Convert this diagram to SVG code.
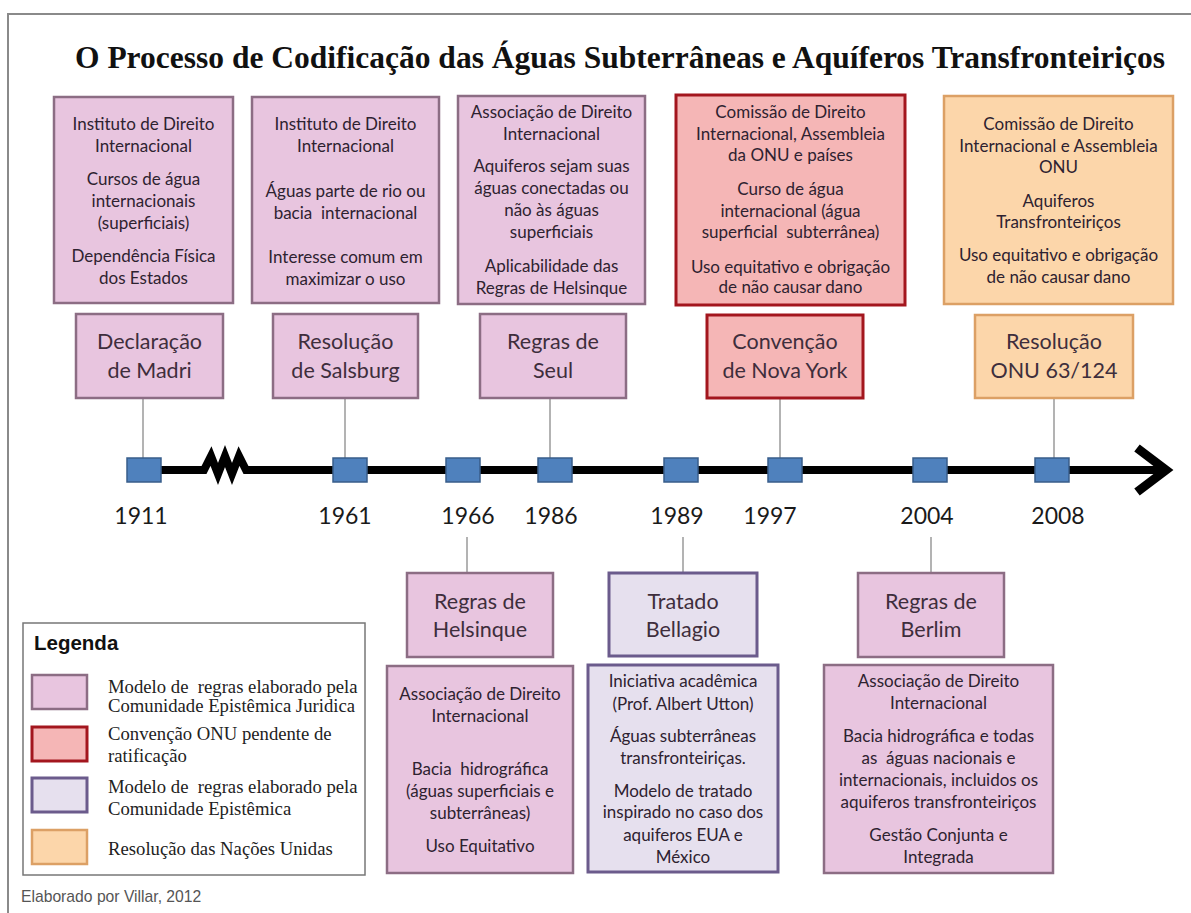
<svg xmlns="http://www.w3.org/2000/svg" width="1191" height="913" viewBox="0 0 1191 913">
<style>
.pk{fill:#e8c5df;stroke:#8c6d84;stroke-width:2.5}
.rd{fill:#f5b6b6;stroke:#a3161e;stroke-width:3}
.pu{fill:#e6e0ee;stroke:#6b5b8c;stroke-width:3}
.or{fill:#fcd6aa;stroke:#dca065;stroke-width:2.5}
.dt{font-family:Lato,"Liberation Sans",sans-serif;font-size:17px;fill:#2e2230;text-anchor:middle;white-space:pre}
.tt{font-family:Lato,"Liberation Sans",sans-serif;font-size:21.5px;fill:#3e2e3c;text-anchor:middle}
.yr{font-family:Lato,"Liberation Sans",sans-serif;font-size:23px;fill:#1a1a1a;text-anchor:middle}
.sq{fill:#4f81bd;stroke:#385d8a;stroke-width:1.5}
.cn{stroke:#9a9a9a;stroke-width:1.5;fill:none}
.lg{font-family:"Liberation Serif",serif;font-size:18.7px;fill:#222;white-space:pre}
</style>
<rect width="1191" height="913" fill="#ffffff"/>
<path d="M8,913 V14 H1191" fill="none" stroke="#8a8a8a" stroke-width="2"/>
<text x="75" y="68" font-family="Liberation Serif,serif" font-weight="bold" font-size="31.5px" fill="#111">O Processo de Codificação das Águas Subterrâneas e Aquíferos Transfronteiriços</text>

<g id="connectors">
<line class="cn" x1="143" y1="398" x2="143" y2="458"/>
<line class="cn" x1="345" y1="398" x2="345" y2="458"/>
<line class="cn" x1="550" y1="398" x2="550" y2="458"/>
<line class="cn" x1="780" y1="398" x2="780" y2="458"/>
<line class="cn" x1="1054" y1="398" x2="1054" y2="458"/>
<line class="cn" x1="467" y1="537" x2="467" y2="573"/>
<line class="cn" x1="683" y1="537" x2="683" y2="573"/>
<line class="cn" x1="931" y1="537" x2="931" y2="573"/>
</g>

<g id="timeline">
<path d="M144,470 H204 L211,456 L218,474 L225,456 L232,474 L239,456 L246,470 H1162" fill="none" stroke="#000" stroke-width="8" stroke-linejoin="miter"/>
<polyline points="1137,448 1166,470 1137,492" fill="none" stroke="#000" stroke-width="9"/>
<rect class="sq" x="127" y="458" width="34" height="24"/>
<rect class="sq" x="333" y="458" width="34" height="24"/>
<rect class="sq" x="446" y="458" width="34" height="24"/>
<rect class="sq" x="538" y="458" width="34" height="24"/>
<rect class="sq" x="664" y="458" width="34" height="24"/>
<rect class="sq" x="768" y="458" width="34" height="24"/>
<rect class="sq" x="913" y="458" width="34" height="24"/>
<rect class="sq" x="1035" y="458" width="34" height="24"/>
<text class="yr" x="141" y="524">1911</text>
<text class="yr" x="345" y="524">1961</text>
<text class="yr" x="468" y="524">1966</text>
<text class="yr" x="551" y="524">1986</text>
<text class="yr" x="677" y="524">1989</text>
<text class="yr" x="770" y="524">1997</text>
<text class="yr" x="927" y="524">2004</text>
<text class="yr" x="1058" y="524">2008</text>
</g>

<g id="madri-info">
<rect class="pk" x="54" y="97" width="179" height="206"/>
<text class="dt" x="143.5" y="130">Instituto de Direito</text>
<text class="dt" x="143.5" y="152">Internacional</text>
<text class="dt" x="143.5" y="185">Cursos de água</text>
<text class="dt" x="143.5" y="207">internacionais</text>
<text class="dt" x="143.5" y="229">(superficiais)</text>
<text class="dt" x="143.5" y="262">Dependência Física</text>
<text class="dt" x="143.5" y="284">dos Estados</text>
</g>
<g id="salsburg-info">
<rect class="pk" x="252" y="97" width="187" height="206"/>
<text class="dt" x="345.5" y="130">Instituto de Direito</text>
<text class="dt" x="345.5" y="152">Internacional</text>
<text class="dt" x="345.5" y="197">Águas parte de rio ou</text>
<text class="dt" x="345.5" y="219">bacia  internacional</text>
<text class="dt" x="345.5" y="263">Interesse comum em</text>
<text class="dt" x="345.5" y="285">maximizar o uso</text>
</g>
<g id="seul-info">
<rect class="pk" x="458" y="96" width="187" height="208"/>
<text class="dt" x="551.5" y="118">Associação de Direito</text>
<text class="dt" x="551.5" y="140">Internacional</text>
<text class="dt" x="551.5" y="172">Aquiferos sejam suas</text>
<text class="dt" x="551.5" y="194">águas conectadas ou</text>
<text class="dt" x="551.5" y="216">não às águas</text>
<text class="dt" x="551.5" y="238">superficiais</text>
<text class="dt" x="551.5" y="272">Aplicabilidade das</text>
<text class="dt" x="551.5" y="294">Regras de Helsinque</text>
</g>
<g id="novayork-info">
<rect class="rd" x="676" y="95" width="229" height="210"/>
<text class="dt" x="790.5" y="118">Comissão de Direito</text>
<text class="dt" x="790.5" y="140">Internacional, Assembleia</text>
<text class="dt" x="790.5" y="161">da ONU e países</text>
<text class="dt" x="790.5" y="195">Curso de água</text>
<text class="dt" x="790.5" y="217">internacional (água</text>
<text class="dt" x="790.5" y="238">superficial  subterrânea)</text>
<text class="dt" x="790.5" y="273">Uso equitativo e obrigação</text>
<text class="dt" x="790.5" y="293">de não causar dano</text>
</g>
<g id="onu-info">
<rect class="or" x="944" y="96" width="229" height="208"/>
<text class="dt" x="1058.5" y="130">Comissão de Direito</text>
<text class="dt" x="1058.5" y="152">Internacional e Assembleia</text>
<text class="dt" x="1058.5" y="173">ONU</text>
<text class="dt" x="1058.5" y="207">Aquiferos</text>
<text class="dt" x="1058.5" y="228">Transfronteiriços</text>
<text class="dt" x="1058.5" y="261">Uso equitativo e obrigação</text>
<text class="dt" x="1058.5" y="283">de não causar dano</text>
</g>

<g id="madri">
<rect class="pk" x="76" y="314" width="147" height="84"/>
<text class="tt" x="149.5" y="349">Declaração</text>
<text class="tt" x="149.5" y="378">de Madri</text>
</g>
<g id="salsburg">
<rect class="pk" x="273" y="314" width="145" height="84"/>
<text class="tt" x="345.5" y="349">Resolução</text>
<text class="tt" x="345.5" y="378">de Salsburg</text>
</g>
<g id="seul">
<rect class="pk" x="480" y="314" width="146" height="84"/>
<text class="tt" x="553" y="349">Regras de</text>
<text class="tt" x="553" y="378">Seul</text>
</g>
<g id="novayork">
<rect class="rd" x="707" y="315" width="156" height="83"/>
<text class="tt" x="785" y="349">Convenção</text>
<text class="tt" x="785" y="378">de Nova York</text>
</g>
<g id="onu">
<rect class="or" x="975" y="315" width="158" height="83"/>
<text class="tt" x="1054" y="349">Resolução</text>
<text class="tt" x="1054" y="378">ONU 63/124</text>
</g>

<g id="helsinque">
<rect class="pk" x="407" y="573" width="146" height="84"/>
<text class="tt" x="480" y="609">Regras de</text>
<text class="tt" x="480" y="637">Helsinque</text>
</g>
<g id="bellagio">
<rect class="pu" x="609" y="573" width="148" height="83"/>
<text class="tt" x="683" y="609">Tratado</text>
<text class="tt" x="683" y="637">Bellagio</text>
</g>
<g id="berlim">
<rect class="pk" x="858" y="573" width="146" height="84"/>
<text class="tt" x="931" y="609">Regras de</text>
<text class="tt" x="931" y="637">Berlim</text>
</g>

<g id="helsinque-info">
<rect class="pk" x="387" y="666" width="186" height="207"/>
<text class="dt" x="480" y="700">Associação de Direito</text>
<text class="dt" x="480" y="722">Internacional</text>
<text class="dt" x="480" y="775">Bacia  hidrográfica</text>
<text class="dt" x="480" y="797">(águas superficiais e</text>
<text class="dt" x="480" y="819">subterrâneas)</text>
<text class="dt" x="480" y="852">Uso Equitativo</text>
</g>
<g id="bellagio-info">
<rect class="pu" x="588" y="665" width="190" height="207"/>
<text class="dt" x="683" y="687">Iniciativa acadêmica</text>
<text class="dt" x="683" y="710">(Prof. Albert Utton)</text>
<text class="dt" x="683" y="742">Águas subterrâneas</text>
<text class="dt" x="683" y="764">transfronteiriças.</text>
<text class="dt" x="683" y="797">Modelo de tratado</text>
<text class="dt" x="683" y="818">inspirado no caso dos</text>
<text class="dt" x="683" y="841">aquiferos EUA e</text>
<text class="dt" x="683" y="863">México</text>
</g>
<g id="berlim-info">
<rect class="pk" x="824" y="665" width="229" height="208"/>
<text class="dt" x="938.5" y="687">Associação de Direito</text>
<text class="dt" x="938.5" y="709">Internacional</text>
<text class="dt" x="938.5" y="742">Bacia hidrográfica e todas</text>
<text class="dt" x="938.5" y="764">as  águas nacionais e</text>
<text class="dt" x="938.5" y="786">internacionais, incluidos os</text>
<text class="dt" x="938.5" y="808">aquiferos transfronteiriços</text>
<text class="dt" x="938.5" y="841">Gestão Conjunta e</text>
<text class="dt" x="938.5" y="863">Integrada</text>
</g>

<g id="legend">
<rect x="23" y="623" width="342" height="252" fill="#fff" stroke="#777" stroke-width="1.5"/>
<text x="34" y="650" font-family="Liberation Sans,sans-serif" font-weight="bold" font-size="20.5px" fill="#111">Legenda</text>
<rect class="pk" x="32" y="675" width="55" height="34" stroke-width="3"/>
<rect class="rd" x="32" y="727" width="55" height="34"/>
<rect class="pu" x="32" y="778" width="55" height="34"/>
<rect class="or" x="32" y="830" width="55" height="34" stroke-width="3"/>
<text class="lg" x="108" y="693">Modelo de  regras elaborado pela</text>
<text class="lg" x="108" y="712">Comunidade Epistêmica Juridica</text>
<text class="lg" x="108" y="740">Convenção ONU pendente de</text>
<text class="lg" x="108" y="762">ratificação</text>
<text class="lg" x="108" y="793">Modelo de  regras elaborado pela</text>
<text class="lg" x="108" y="815">Comunidade Epistêmica</text>
<text class="lg" x="108" y="855">Resolução das Nações Unidas</text>
</g>
<text x="21" y="902" font-family="Liberation Sans,sans-serif" font-size="15.7px" fill="#555">Elaborado por Villar, 2012</text>
</svg>
